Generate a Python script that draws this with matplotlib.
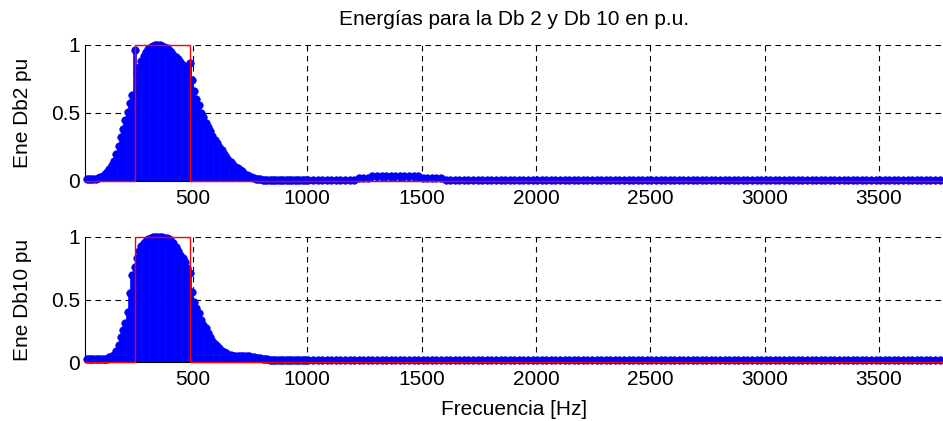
import matplotlib
matplotlib.use("Agg")
import matplotlib.pyplot as plt
import numpy as np

plt.rcParams['font.family'] = ['Liberation Sans', 'DejaVu Sans']
plt.rcParams['font.size'] = 15

# frequency grid of the stems (Hz)
f_hump = np.arange(35, 1000, 10)
f_tail = np.arange(1005, 3780, 20)

# Db 2 energy (p.u.)
db2_hump = [0.012, 0.012, 0.013, 0.015, 0.018, 0.022, 0.028,
            0.037, 0.05, 0.066, 0.087, 0.115, 0.15, 0.2, 0.26, 0.32, 0.38,
            0.45, 0.51, 0.57, 0.63, 0.96, 0.8, 0.84, 0.88, 0.92, 0.95,
            0.97, 0.985, 0.995, 1.0, 1.0, 0.998, 0.99, 0.985, 0.975, 0.965,
            0.95, 0.93, 0.915, 0.895, 0.875, 0.855, 0.83, 0.8, 0.87, 0.74,
            0.66, 0.6, 0.56, 0.5, 0.47, 0.43, 0.4, 0.37, 0.33, 0.3,
            0.28, 0.25, 0.23, 0.2, 0.18, 0.155, 0.14, 0.12, 0.105, 0.095,
            0.08, 0.07, 0.055, 0.045, 0.035, 0.03, 0.022, 0.016, 0.013, 0.012,
            0.01, 0.01, 0.01, 0.01, 0.01, 0.01, 0.01, 0.01, 0.01, 0.01,
            0.01, 0.01, 0.01, 0.01, 0.01, 0.01, 0.01, 0.01, 0.01, 0.01]
db2_tail = [0.01, 0.01, 0.01, 0.01, 0.01, 0.01, 0.01, 0.01, 0.01, 0.01,
            0.01, 0.02, 0.02, 0.025, 0.04, 0.04, 0.04, 0.04, 0.04, 0.04,
            0.04, 0.04, 0.04, 0.04, 0.04, 0.025, 0.02, 0.02, 0.02, 0.02,
            0.01, 0.01, 0.01, 0.01, 0.01, 0.01, 0.01, 0.01, 0.01, 0.01,
            0.01, 0.01, 0.01, 0.01, 0.01, 0.01, 0.01, 0.01, 0.01, 0.01,
            0.01, 0.01, 0.01, 0.01, 0.01, 0.01, 0.01, 0.01, 0.01, 0.01,
            0.01, 0.01, 0.01, 0.01, 0.01, 0.01, 0.01, 0.01, 0.01, 0.01,
            0.01, 0.01, 0.01, 0.01, 0.01, 0.01, 0.01, 0.01, 0.01, 0.01,
            0.01, 0.01, 0.01, 0.01, 0.01, 0.01, 0.01, 0.01, 0.01, 0.01,
            0.01, 0.01, 0.01, 0.01, 0.01, 0.01, 0.01, 0.01, 0.01, 0.01,
            0.01, 0.01, 0.01, 0.01, 0.01, 0.01, 0.01, 0.01, 0.01, 0.01,
            0.01, 0.01, 0.01, 0.01, 0.01, 0.01, 0.01, 0.01, 0.01, 0.01,
            0.01, 0.01, 0.01, 0.01, 0.01, 0.01, 0.01, 0.01, 0.01, 0.01,
            0.01, 0.01, 0.01, 0.01, 0.01, 0.01, 0.01, 0.01, 0.01]

# Db 10 energy (p.u.)
db10_hump = [0.025, 0.025, 0.025, 0.025, 0.025, 0.025, 0.025,
             0.025, 0.025, 0.025, 0.04, 0.045, 0.06, 0.09, 0.14, 0.2, 0.26,
             0.31, 0.4, 0.55, 0.7, 0.76, 0.83, 0.89, 0.93, 0.955, 0.97,
             0.985, 0.995, 1.0, 1.0, 1.0, 1.0, 0.998, 0.995, 0.99, 0.985,
             0.97, 0.95, 0.92, 0.89, 0.86, 0.83, 0.8, 0.75, 0.71, 0.56,
             0.48, 0.43, 0.39, 0.34, 0.3, 0.27, 0.23, 0.2, 0.17, 0.145,
             0.125, 0.11, 0.09, 0.08, 0.07, 0.06, 0.055, 0.05, 0.05, 0.048,
             0.045, 0.045, 0.045, 0.045, 0.045, 0.043, 0.04, 0.035, 0.03, 0.03,
             0.028, 0.025, 0.022, 0.02, 0.018, 0.018, 0.018, 0.018, 0.018, 0.018,
             0.018, 0.018, 0.018, 0.018, 0.018, 0.018, 0.018, 0.018, 0.018, 0.018]
db10_tail = [
    0.016, 0.016, 0.016, 0.016, 0.016, 0.016, 0.016, 0.016, 0.016, 0.016,
    0.016, 0.016, 0.016, 0.016, 0.016, 0.016, 0.016, 0.016, 0.016, 0.016,
    0.016, 0.016, 0.016, 0.016, 0.016, 0.016, 0.016, 0.016, 0.016, 0.016,
    0.016, 0.016, 0.016, 0.016, 0.016, 0.016, 0.016, 0.016, 0.016, 0.016,
    0.016, 0.016, 0.016, 0.016, 0.016, 0.016, 0.016, 0.016, 0.016, 0.016,
    0.016, 0.016, 0.016, 0.016, 0.016, 0.016, 0.016, 0.016, 0.016, 0.016,
    0.016, 0.016, 0.016, 0.016, 0.016, 0.016, 0.016, 0.016, 0.016, 0.016,
    0.016, 0.016, 0.016, 0.016, 0.016, 0.016, 0.016, 0.016, 0.016, 0.016,
    0.016, 0.016, 0.016, 0.016, 0.016, 0.016, 0.016, 0.016, 0.016, 0.016,
    0.016, 0.016, 0.016, 0.016, 0.016, 0.016, 0.016, 0.016, 0.016, 0.016,
    0.016, 0.016, 0.016, 0.016, 0.016, 0.016, 0.016, 0.016, 0.016, 0.016,
    0.016, 0.016, 0.016, 0.016, 0.016, 0.016, 0.016, 0.016, 0.016, 0.016,
    0.016, 0.016, 0.016, 0.016, 0.016, 0.016, 0.016, 0.016, 0.016, 0.016,
    0.016, 0.016, 0.016, 0.016, 0.016, 0.016, 0.016, 0.016, 0.016]

# rectangular band window (red)
win_f = [28, 245, 245, 485, 485, 3780]
win_v = [0, 0, 1, 1, 0, 0]

xticks = [500, 1000, 1500, 2000, 2500, 3000, 3500]
yticks = [0, 0.5, 1]

freq = np.concatenate([f_hump, f_tail])
series = [np.array(db2_hump + db2_tail), np.array(db10_hump + db10_tail)]
ylabels = ['Ene Db2 pu', 'Ene Db10 pu']

W, H = 943, 421
fig = plt.figure(figsize=(W / 100, H / 100), dpi=100)
boxes = [(85, 45, 181), (85, 237, 362)]   # left, top, bottom in px

for (lx, ty, by), vals, lab in zip(boxes, series, ylabels):
    ax = fig.add_axes([lx / W, 1 - by / H, (W - lx) / W, (by - ty) / H])
    ax.vlines(freq, 0, vals, colors='#0000ff', lw=2.6, zorder=2)
    ax.plot(freq, vals, 'o', color='#0000ff', ms=5.4, mew=0.5,
            clip_on=False, zorder=3)
    ax.plot(win_f, win_v, color='#ff0000', lw=1.0, zorder=4, clip_on=False)
    ax.set_xlim(28, 3780)
    ax.set_ylim(0, 1)
    ax.set_xticks(xticks)
    ax.set_yticks(yticks)
    ax.set_yticklabels(['0', '0.5', '1'])
    ax.grid(True, color='black', ls=(0, (5, 4)), lw=0.8)
    ax.set_axisbelow(True)
    ax.tick_params(length=0, labelsize=15)
    ax.tick_params(axis='x', pad=5.5)
    ax.tick_params(axis='y', pad=3.5)
    for s in ['top', 'right']:
        ax.spines[s].set_visible(False)
    ax.spines['left'].set_linewidth(0.8)
    ax.spines['bottom'].set_linewidth(0.8)
    fig.text(23 / W, 1 - (ty + by) / 2 / H, lab, rotation=90,
             ha='center', va='center', fontsize=15)

fig.text(514 / W, 1 - 25 / H, 'Energías para la Db 2 y Db 10 en p.u.',
         ha='center', va='baseline', fontsize=15)
fig.text(514 / W, 1 - 415 / H, 'Frecuencia [Hz]',
         ha='center', va='baseline', fontsize=15)

fig.savefig('out.png', dpi=100)
